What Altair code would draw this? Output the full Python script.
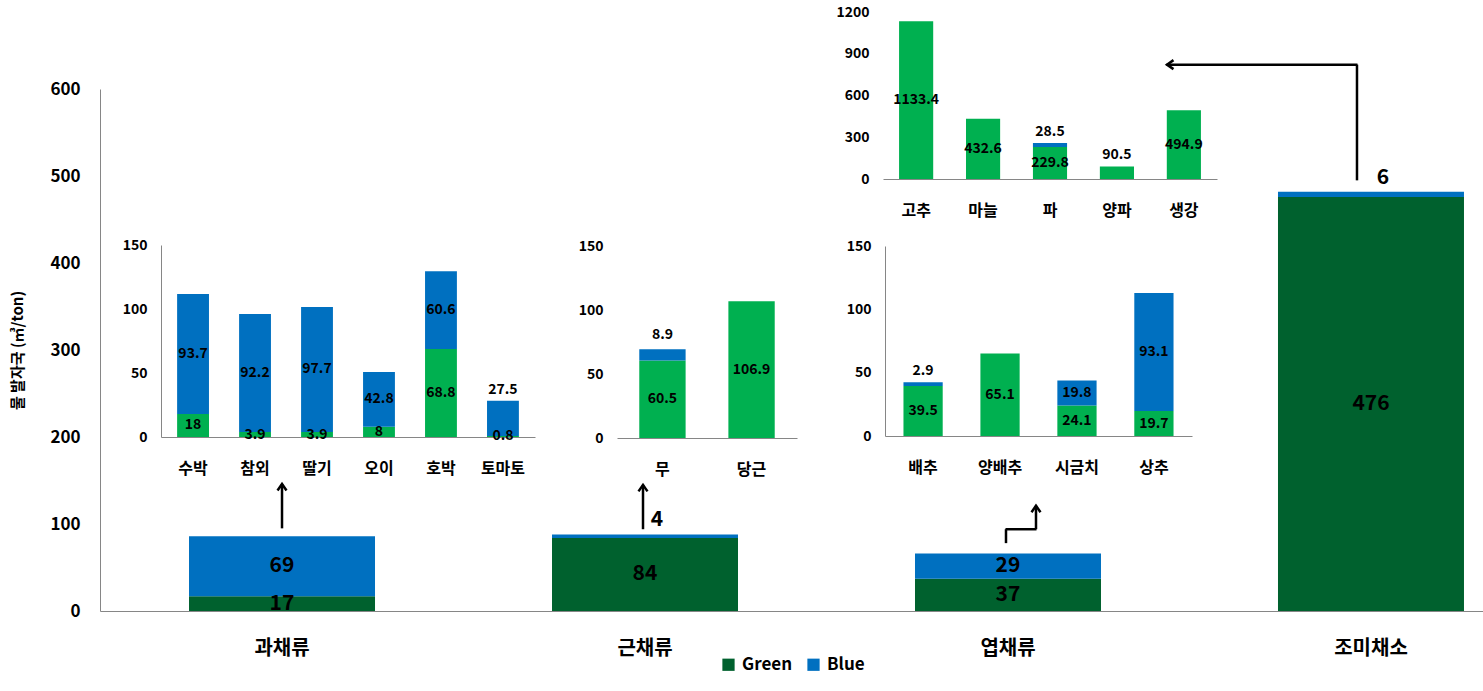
import altair as alt
import pandas as pd

# ---------------- data ----------------
MAIN_CATS = ["과채류", "근채류", "엽채류", "조미채소"]
MAIN_GREEN = [17, 84, 37, 476]
MAIN_BLUE = [69, 4, 29, 6]

FRUIT_CATS = ["수박", "참외", "딸기", "오이", "호박", "토마토"]
FRUIT_GREEN = [18, 3.9, 3.9, 8, 68.8, 0.8]
FRUIT_BLUE = [93.7, 92.2, 97.7, 42.8, 60.6, 27.5]

ROOT_CATS = ["무", "당근"]
ROOT_GREEN = [60.5, 106.9]
ROOT_BLUE = [8.9, 0]

LEAF_CATS = ["배추", "양배추", "시금치", "상추"]
LEAF_GREEN = [39.5, 65.1, 24.1, 19.7]
LEAF_BLUE = [2.9, 0, 19.8, 93.1]

SPICE_CATS = ["고추", "마늘", "파", "양파", "생강"]
SPICE_GREEN = [1133.4, 432.6, 229.8, 90.5, 494.9]
SPICE_BLUE = [0, 0, 28.5, 0, 0]

SERIES = ["Green", "Blue"]
Y_TITLE = "물 발자국 (㎥/ton)"

# labels drawn above the bar instead of inside the segment
OUTSIDE = {("근채류", "Blue"), ("조미채소", "Blue"), ("토마토", "Blue"),
           ("무", "Blue"), ("배추", "Blue"), ("파", "Blue"), ("양파", "Green")}

# ---------------- style ----------------
FONT = "Noto Sans CJK KR"
DARK_GREEN = "#00612E"
LIGHT_GREEN = "#00B050"
BLUE = "#0070C0"
GRAY = "#868686"
W, H = 1383, 522


def fmt(v):
    return f"{v:g}"


def stacked(cats, green, blue):
    rows = []
    for c, g, b in zip(cats, green, blue):
        base = 0.0
        for s, v in (("Green", g), ("Blue", b)):
            if v:
                rows.append(dict(cat=c, series=s, value=v, start=base, end=base + v,
                                 mid=base + v / 2, label=fmt(v), out=(c, s) in OUTSIDE))
                base += v
    return pd.DataFrame(rows)


def group(cats, green, blue, xs, ys, x_axis, y_axis, colors, legend,
          lsize, lweight, out_dy, out_dx=0):
    df = stacked(cats, green, blue)
    base = alt.Chart(df)
    color = alt.Color("series:N", scale=alt.Scale(domain=SERIES, range=colors),
                      legend=legend)
    bars = base.mark_bar().encode(
        x=alt.X("cat:N", scale=xs, axis=x_axis, title=None),
        y=alt.Y("start:Q", scale=ys, axis=y_axis),
        y2="end:Q",
        color=color,
    )
    txt_in = base.transform_filter("!datum.out").mark_text(
        font=FONT, fontSize=lsize, fontWeight=lweight, color="black", baseline="middle"
    ).encode(
        x=alt.X("cat:N", scale=xs, axis=None),
        y=alt.Y("mid:Q", scale=ys, axis=None),
        text="label:N",
    )
    txt_out = base.transform_filter("datum.out").mark_text(
        font=FONT, fontSize=lsize, fontWeight=lweight, color="black", baseline="middle",
        dy=out_dy, dx=out_dx
    ).encode(
        x=alt.X("cat:N", scale=xs, axis=None),
        y=alt.Y("end:Q", scale=ys, axis=None),
        text="label:N",
    )
    return [bars, txt_in, txt_out]


def inset_axes(x0, baseline, domain_line, values):
    x_axis = alt.Axis(orient="bottom", offset=baseline - H, domain=True, domainColor=GRAY,
                      ticks=False, labelAngle=0, labelFont=FONT, labelFontSize=16,
                      labelFontWeight="bold", labelColor="black", labelPadding=23, grid=False)
    y_axis = alt.Axis(orient="left", offset=-x0, domain=domain_line, domainColor=GRAY,
                      ticks=False, values=values, format="d", labelFont=FONT, labelFontSize=14,
                      labelFontWeight="bold", labelColor="black", labelPadding=14,
                      grid=False, title=None)
    return x_axis, y_axis


def band(cats, pi, po, rng=None, align=None):
    kw = dict(type="band", domain=cats, paddingInner=pi, paddingOuter=po)
    if rng is not None:
        kw["range"] = rng
    if align is not None:
        kw["align"] = align
    return alt.Scale(**kw)


# ---------------- main chart ----------------
main_xs = band(MAIN_CATS, 0.4876, 0.1488, align=0.824)
main_ys = alt.Scale(domain=[0, 600], nice=False)

main_x_axis = alt.Axis(orient="bottom", domain=True, domainColor=GRAY, ticks=False,
                       labelAngle=0, labelFont=FONT, labelFontSize=20, labelFontWeight="bold",
                       labelColor="black", labelPadding=27, grid=False)
main_y_axis = alt.Axis(orient="left", domain=True, domainColor=GRAY, ticks=False,
                       values=[0, 100, 200, 300, 400, 500, 600], labelFont=FONT,
                       labelFontSize=17, labelFontWeight="bold", labelColor="black",
                       labelPadding=20, grid=False, title=Y_TITLE, titleFont=FONT,
                       titleFontSize=15, titleFontWeight="bold", titleColor="black",
                       titleAngle=-90, titleX=-83, titleY=H / 2, titleAlign="center",
                       titleBaseline="middle")

legend = alt.Legend(title=None, orient="none", legendX=620, legendY=567, direction="horizontal",
                    symbolType="square", symbolSize=150, symbolStrokeWidth=0,
                    labelFont=FONT, labelFontSize=17, labelFontWeight="bold",
                    labelColor="black", columnPadding=12, labelOffset=5, padding=0)

UP = "M-0.9,1.3L0,0L0.9,1.3"
LEFT = "M1.3,-0.9L0,0L1.3,0.9"


def vrule(cat, y1, y2, dx=0):
    d = pd.DataFrame({"cat": [cat], "a": [y1], "b": [y2]})
    return alt.Chart(d).mark_rule(color="black", strokeWidth=2.5, xOffset=dx).encode(
        x=alt.X("cat:N", scale=main_xs, axis=None),
        y=alt.Y("a:Q", scale=main_ys, axis=None), y2="b:Q")


def hrule(cat, yv, length, center_dx):
    d = pd.DataFrame({"cat": [cat], "a": [yv]})
    return alt.Chart(d).mark_tick(color="black", thickness=2.5, size=length,
                                  xOffset=center_dx, opacity=1).encode(
        x=alt.X("cat:N", scale=main_xs, axis=None),
        y=alt.Y("a:Q", scale=main_ys, axis=None))


def head(cat, yv, shape, dx=0):
    d = pd.DataFrame({"cat": [cat], "a": [yv]})
    return alt.Chart(d).mark_point(shape=shape, filled=False, color="black", strokeWidth=2.5,
                                   size=100, xOffset=dx, opacity=1).encode(
        x=alt.X("cat:N", scale=main_xs, axis=None),
        y=alt.Y("a:Q", scale=main_ys, axis=None))


arrows = [
    vrule("과채류", 95, 146), head("과채류", 146, UP),
    vrule("근채류", 94, 145, -2), head("근채류", 145, UP, -2),
    vrule("엽채류", 78, 94, -2), hrule("엽채류", 94, 31, 13),
    vrule("엽채류", 94, 121, 28), head("엽채류", 121, UP, 28),
    vrule("조미채소", 495, 628, -14), hrule("조미채소", 628, 191, -109),
    head("조미채소", 628, LEFT, -204),
]

layers = group(MAIN_CATS, MAIN_GREEN, MAIN_BLUE, main_xs, main_ys, main_x_axis, main_y_axis,
               [DARK_GREEN, BLUE], legend, 21, "bold", -14, 12)

# ---------------- insets ----------------
fx, fy = inset_axes(61, 348, True, [0, 50, 100, 150])
layers += group(FRUIT_CATS, FRUIT_GREEN, FRUIT_BLUE,
                band(FRUIT_CATS, 0.486, 0.26, [61, 435]),
                alt.Scale(domain=[0, 150], range=[348, 156], nice=False),
                fx, fy, [LIGHT_GREEN, BLUE], None, 14, "bold", -11)

rx, ry = inset_axes(517, 349, False, [0, 50, 100, 150])
layers += group(ROOT_CATS, ROOT_GREEN, ROOT_BLUE,
                band(ROOT_CATS, 0.48, 0.25, [517, 697]),
                alt.Scale(domain=[0, 150], range=[349, 157], nice=False),
                rx, ry, [LIGHT_GREEN, BLUE], None, 14, "bold", -14)

lx, ly = inset_axes(785, 347, True, [0, 50, 100, 150])
layers += group(LEAF_CATS, LEAF_GREEN, LEAF_BLUE,
                band(LEAF_CATS, 0.49, 0.24, [785, 1092]),
                alt.Scale(domain=[0, 150], range=[347, 157], nice=False),
                lx, ly, [LIGHT_GREEN, BLUE], None, 14, "bold", -11)

sx, sy = inset_axes(783, 90, False, [0, 300, 600, 900, 1200])
layers += group(SPICE_CATS, SPICE_GREEN, SPICE_BLUE,
                band(SPICE_CATS, 0.49, 0.24, [783, 1117]),
                alt.Scale(domain=[0, 1200], range=[90, -77], nice=False),
                sx, sy, [LIGHT_GREEN, BLUE], None, 14, "bold", -11)

layers += arrows

chart = alt.layer(*layers).resolve_scale(
    x="independent", y="independent", color="independent"
).resolve_axis(x="independent", y="independent").properties(
    width=W, height=H,
    autosize=alt.AutoSizeParams(type="none"),
    padding={"left": 100, "top": 89, "right": 0, "bottom": 80},
    background="white",
).configure_view(stroke=None).configure_axis(grid=False)

chart.save("out.html", embed_options={"renderer": "svg", "actions": False})
